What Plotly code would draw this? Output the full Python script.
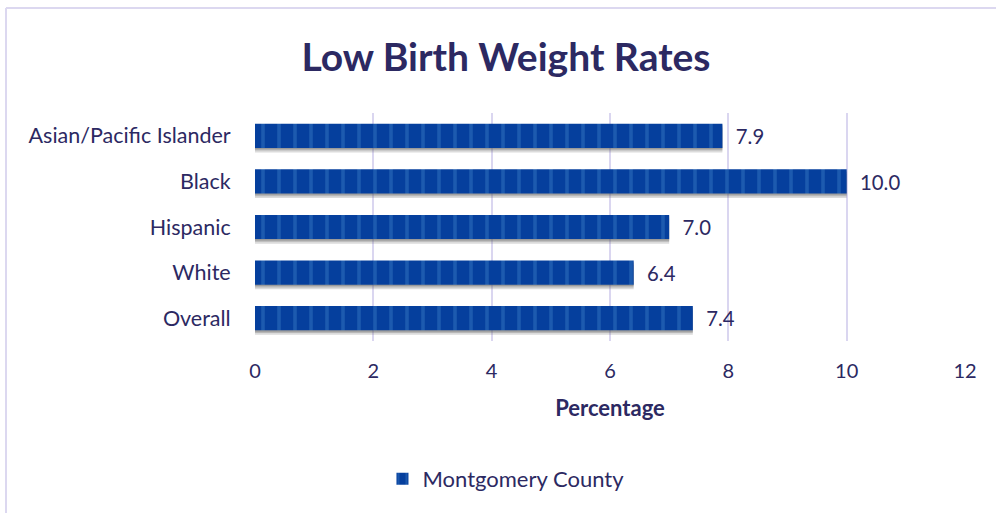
import plotly.graph_objects as go

# Low birth weight rates by race/ethnicity, Montgomery County
categories = ["Overall", "White", "Hispanic", "Black", "Asian/Pacific Islander"]
rates = [7.4, 6.4, 7.0, 10.0, 7.9]
series_name = "Montgomery County"
x_ticks = [0, 2, 4, 6, 8, 10, 12]

text_color = "#2C2962"
bar_color = "#053F9D"
stripe_color = "#1C5AAF"
grid_color = "#DAD6F0"
font_family = "Lato, 'Open Sans', sans-serif"

W, H = 996, 513
L, R, T, B = 255, 31, 113, 172
pw, ph = W - L - R, H - T - B

fig = go.Figure()

# soft drop shadow under each bar
for shift, alpha in [(0.10, 0.22), (0.06, 0.28), (0.03, 0.30)]:
    fig.add_trace(go.Bar(
        y=categories, x=rates, orientation="h",
        width=0.53, offset=-0.265 - shift,
        marker=dict(color=f"rgba(90,90,90,{alpha})", line=dict(width=0)),
        showlegend=False, hoverinfo="skip",
    ))

fig.add_trace(go.Bar(
    y=categories, x=rates, orientation="h", name=series_name,
    width=0.53,
    marker=dict(
        color=bar_color,
        line=dict(width=0),
        pattern=dict(shape="|", fgcolor=stripe_color, bgcolor=bar_color,
                     size=16, solidity=0.22, fillmode="replace"),
    ),
    texttemplate="  %{x:.1f}", textposition="outside", cliponaxis=False,
    textfont=dict(family=font_family, size=21, color=text_color),
))

# frame lines along the top and left edges of the chart area
fx = lambda px: (px - L) / pw
fy = lambda py: 1 - (py - T) / ph
fig.add_shape(type="line", xref="paper", yref="paper",
              x0=fx(6), x1=fx(W + 5), y0=fy(8), y1=fy(8),
              line=dict(color="#DCD8F0", width=2))
fig.add_shape(type="line", xref="paper", yref="paper",
              x0=fx(6), x1=fx(6), y0=fy(8), y1=fy(H + 5),
              line=dict(color="#DCD8F0", width=2))

fig.update_layout(
    width=W, height=H,
    margin=dict(l=L, r=R, t=T, b=B),
    paper_bgcolor="white", plot_bgcolor="white",
    barmode="overlay",
    font=dict(family=font_family, color=text_color),
    title=dict(text="<b>Low Birth Weight Rates</b>", xref="container", yref="container",
               x=0.508, y=1 - 57 / H, xanchor="center", yanchor="middle",
               font=dict(family=font_family, size=39, color=text_color)),
    xaxis=dict(range=[0, 12], tickvals=x_ticks, showgrid=True, gridcolor=grid_color,
               gridwidth=2, zeroline=False, showline=False,
               ticks="outside", ticklen=0, ticklabelstandoff=12,
               tickfont=dict(family=font_family, size=20, color=text_color),
               title=dict(text="<b>Percentage</b>", standoff=19,
                          font=dict(family=font_family, size=22, color=text_color))),
    yaxis=dict(showgrid=False, zeroline=False, showline=False,
               ticks="outside", ticklen=0, ticklabelstandoff=19,
               tickfont=dict(family=font_family, size=21.5, color=text_color)),
    legend=dict(orientation="h", xref="container", yref="container",
                x=0.508, y=1 - 479 / H, xanchor="center", yanchor="middle",
                font=dict(family=font_family, size=22, color=text_color)),
    showlegend=True,
)

fig.write_html("out.html")
